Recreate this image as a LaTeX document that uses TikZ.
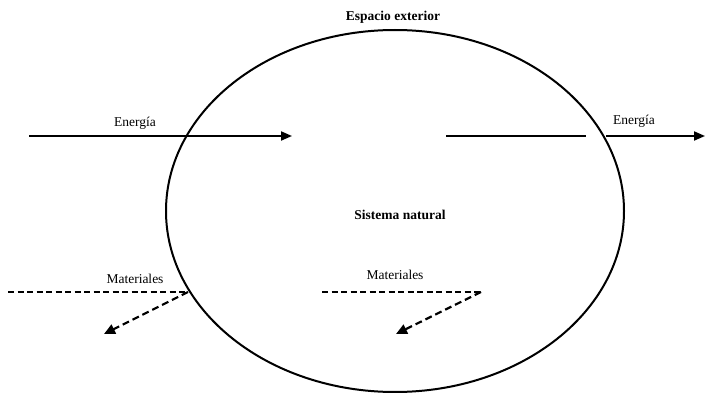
\documentclass[tikz,border=0pt]{standalone}
\usepackage{fontspec}
\setmainfont{Liberation Serif}
\usetikzlibrary{arrows.meta,shapes.geometric}
\tikzset{
  lbl/.style={font=\fontsize{13.5}{15}\selectfont, inner sep=0pt},
  blbl/.style={font=\fontsize{13.5}{15}\selectfont\bfseries, inner sep=0pt},
  energy/.style={line width=2pt, -{Triangle[length=11pt,width=9pt]}},
  plain/.style={line width=2pt},
  matline/.style={line width=1.4pt, dash pattern=on 6pt off 3.5pt},
  matarrow/.style={line width=2.2pt, dash pattern=on 7pt off 4pt, -{Triangle[length=11pt,width=10pt]}},
}
\begin{document}
\begin{tikzpicture}[x=1pt,y=-1pt]
\useasboundingbox (0,0) rectangle (705,393);
\node[draw, ellipse, line width=2pt, minimum width=458pt, minimum height=362pt, inner sep=0pt] (sys) at (395,211) {};
\node[blbl] (space) at (393,17) {Espacio exterior};
\node[blbl] (sysname) at (400,215) {Sistema natural};
% energy in
\coordinate (ein1) at (29,136);
\coordinate (ein2) at (292,136);
\draw[energy] (ein1) -- (ein2);
\node[lbl] (elab1) at (135,123) {Energía};
% energy out
\coordinate (eo1) at (446,136);
\coordinate (eo2) at (586,136);
\draw[plain] (eo1) -- (eo2);
\coordinate (eo3) at (606,136);
\coordinate (eo4) at (705,136);
\draw[energy] (eo3) -- (eo4);
\node[lbl] (elab2) at (634,121) {Energía};
% materiales left
\coordinate (m1a) at (8,292);
\coordinate (m1b) at (188,292);
\coordinate (m1c) at (104,334);
\draw[matline] (m1a) -- (m1b);
\draw[matarrow] (m1b) -- (m1c);
\node[lbl] (mlab1) at (135,279) {Materiales};
% materiales middle
\coordinate (m2a) at (322,292);
\coordinate (m2b) at (481,292);
\coordinate (m2c) at (396,334);
\draw[matline] (m2a) -- (m2b);
\draw[matarrow] (m2b) -- (m2c);
\node[lbl] (mlab2) at (395,275) {Materiales};
\end{tikzpicture}
\end{document}
